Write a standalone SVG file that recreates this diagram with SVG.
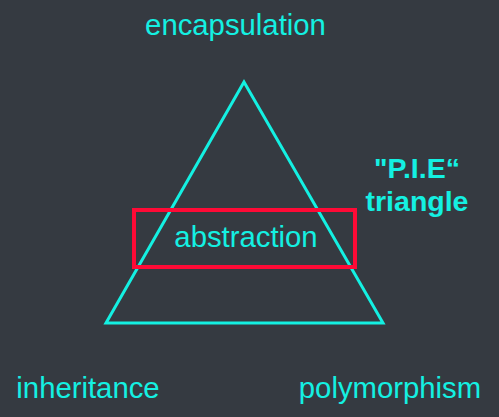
<svg xmlns="http://www.w3.org/2000/svg" width="499" height="417" viewBox="0 0 499 417">
<style>
.t{font-family:"Liberation Sans",Arial,sans-serif;fill:#14f0e2;font-size:29.3px}
.b{font-weight:bold;font-size:28.5px}
</style>
<rect width="499" height="417" fill="#353a41"/>
<g id="triangle"><polygon points="244,82 106,323 383,323" fill="none" stroke="#14f0e2" stroke-width="3"/></g>
<g id="abstraction"><rect x="134" y="210" width="221" height="57" fill="none" stroke="#ff0a36" stroke-width="4"/>
<text class="t" x="246" y="247" text-anchor="middle">abstraction</text></g>
<g id="encapsulation"><text class="t" x="235.5" y="35" text-anchor="middle">encapsulation</text></g>
<g id="inheritance"><text class="t" x="88" y="398" text-anchor="middle">inheritance</text></g>
<g id="polymorphism"><text class="t" x="390" y="398" text-anchor="middle">polymorphism</text></g>
<g id="pie"><text class="t b" x="417" y="178" text-anchor="middle">"P.I.E“</text>
<text class="t b" x="417" y="211" text-anchor="middle">triangle</text></g>
<g id="connectors"/>
</svg>
